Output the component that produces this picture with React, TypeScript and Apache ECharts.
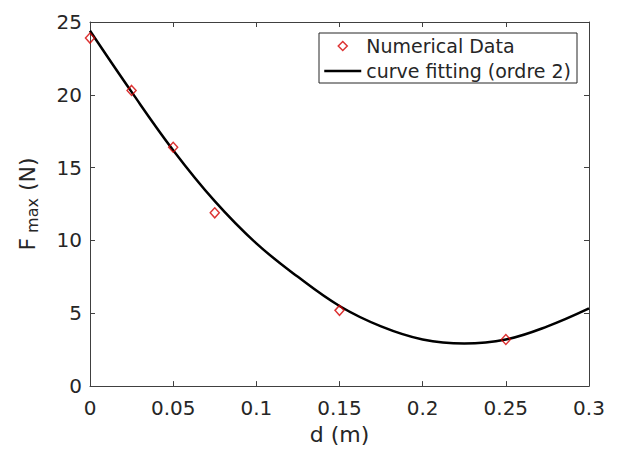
import React, { useEffect, useRef } from "react";
import * as echarts from "echarts";

// Numerical data (d in m, Fmax in N)
const dataD = [0, 0.025, 0.05, 0.075, 0.15, 0.25];
const dataF = [23.9, 20.3, 16.4, 11.9, 5.2, 3.2];

// Fitted curve (order 2)
const fitD = [0, 0.025, 0.05, 0.075, 0.1, 0.125, 0.15, 0.175, 0.2, 0.225, 0.25, 0.275, 0.3];
const fitF = [24.4, 20.2, 16.2, 12.7, 9.8, 7.5, 5.5, 4.1, 3.2, 2.92, 3.2, 4.1, 5.33];

const xTicks = { min: 0, max: 0.3, interval: 0.05 };
const yTicks = { min: 0, max: 25, interval: 5 };

const FONT = "DejaVu Sans";
const AXIS_COLOR = "#404040";
const TEXT_COLOR = "#262626";

export default function App() {
  const ref = useRef<HTMLDivElement>(null);
  useEffect(() => {
    if (!ref.current) return;
    const chart = echarts.init(ref.current, null, { renderer: "svg" });
    const axisLine = { show: true, onZero: false, lineStyle: { color: AXIS_COLOR, width: 1 } };
    const axisTick = { show: true, inside: true, length: 5, lineStyle: { color: AXIS_COLOR, width: 1 } };
    chart.setOption({
      animation: false,
      backgroundColor: "#ffffff",
      grid: { left: 88, top: 22, right: 29, bottom: 62, containLabel: false },
      legend: {
        orient: "vertical",
        left: 319,
        top: 33,
        itemWidth: 37,
        itemHeight: 9,
        itemGap: 3,
        symbolKeepAspect: true,
        padding: [2, 6, 1, 4],
        borderColor: "#262626",
        borderWidth: 1,
        backgroundColor: "#ffffff",
        textStyle: { fontFamily: FONT, fontSize: 19, color: TEXT_COLOR, lineHeight: 22 },
        data: [
          {
            name: "Numerical Data",
            icon: "path://M5,0 L10,5 L5,10 L0,5 Z",
            itemStyle: { color: "transparent", borderColor: "#d40000", borderWidth: 1.5 },
          },
          {
            name: "curve fitting (ordre 2)",
            itemStyle: { opacity: 0 },
            lineStyle: { color: "#000000", width: 2.5 },
          },
        ],
      },
      xAxis: [
        {
          type: "value",
          position: "bottom",
          ...xTicks,
          name: "d (m)",
          nameLocation: "middle",
          nameGap: 33,
          nameTextStyle: { fontFamily: FONT, fontSize: 22, color: TEXT_COLOR },
          axisLine,
          axisTick,
          splitLine: { show: false },
          axisLabel: { fontFamily: FONT, fontSize: 20, color: TEXT_COLOR, margin: 12 },
        },
        {
          type: "value",
          position: "top",
          ...xTicks,
          axisLine,
          axisTick,
          splitLine: { show: false },
          axisLabel: { show: false },
        },
      ],
      yAxis: [
        {
          type: "value",
          position: "left",
          ...yTicks,
          name: "{f|F}{s|max}{f| (N)}",
          nameLocation: "middle",
          nameGap: 50,
          nameTextStyle: {
            rich: {
              f: { fontFamily: FONT, fontSize: 22, color: TEXT_COLOR, lineHeight: 24, verticalAlign: "top" },
              s: { fontFamily: FONT, fontSize: 16, color: TEXT_COLOR, lineHeight: 17, padding: [16, 0, 0, 5], verticalAlign: "bottom" },
            },
          },
          axisLine,
          axisTick,
          splitLine: { show: false },
          axisLabel: { fontFamily: FONT, fontSize: 20, color: TEXT_COLOR, margin: 8 },
        },
        {
          type: "value",
          position: "right",
          ...yTicks,
          axisLine,
          axisTick,
          splitLine: { show: false },
          axisLabel: { show: false },
        },
      ],
      series: [
        {
          name: "Numerical Data",
          type: "scatter",
          data: dataD.map((d, i) => [d, dataF[i]]),
          symbol: "diamond",
          symbolSize: [9, 10],
          itemStyle: { color: "transparent", borderColor: "#d40000", borderWidth: 1.5 },
          z: 3,
        },
        {
          name: "curve fitting (ordre 2)",
          type: "line",
          data: fitD.map((d, i) => [d, fitF[i]]),
          smooth: 0.4,
          symbol: "none",
          lineStyle: { color: "#000000", width: 2.5 },
          itemStyle: { color: "#000000" },
          z: 2,
        },
      ],
    });
    return () => chart.dispose();
  }, []);
  return <div ref={ref} style={{ width: 618, height: 450, position: "absolute", left: 0, top: 0 }} />;
}
